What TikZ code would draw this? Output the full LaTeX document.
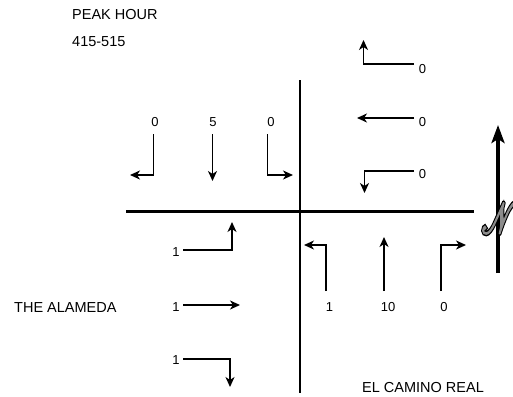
\documentclass[tikz,border=0pt]{standalone}
\usepackage{fontspec}
\setmainfont{Liberation Sans}
\usepackage{mathrsfs}
\usetikzlibrary{arrows.meta}
\newcommand{\glyphN}{\scalebox{2.75}[4.3]{$\mathscr{N}$}}
\newcommand{\outlinedN}{\rlap{\special{pdf:literal 2 Tr 1.1 w 0 0 0 RG}\glyphN}\special{pdf:literal 2 Tr 0.4 w 0.55 0.55 0.55 RG}\glyphN\special{pdf:literal 0 Tr 0 0 0 RG}}
\begin{document}
\begin{tikzpicture}[x=1pt,y=-1pt,
  road/.style={line width=2.3pt},
  mv/.style={line width=1.8pt,-{Stealth[length=10pt,width=9pt,inset=3pt]}},
  lbl/.style={inner sep=0pt,font=\fontsize{13}{15}\selectfont},
  hdr/.style={inner sep=0pt,anchor=base west,font=\fontsize{14.5}{17}\selectfont},
  nfill/.style={inner sep=0pt,text=black!45}]
\useasboundingbox (0,0) rectangle (513,396);
% headers
\node[hdr] (peak) at (72,20) {PEAK HOUR};
\node[hdr] (time) at (72,47) {415-515};
\node[hdr] (alameda) at (14,312) {THE ALAMEDA};
\node[hdr] (camino) at (362,392) {EL CAMINO REAL};
% roads
\coordinate (vt) at (300,80);
\coordinate (vb) at (300,393);
\coordinate (hl) at (126,211.5);
\coordinate (hr) at (474,211.5);
\draw[road] (vt) -- (vb);
\draw[road] (hl) -- (hr);
% southbound (top-left)
\node[lbl] (sbl) at (155,122.5) {0};
\node[lbl] (sbt) at (213,122.5) {5};
\node[lbl] (sbr) at (271,122.5) {0};
\draw[mv] (153.5,134) -- (153.5,175) -- (130,175);
\draw[mv] (212.5,134) -- (212.5,181);
\draw[mv] (267.5,134) -- (267.5,175) -- (293,175);
% westbound (top-right)
\node[lbl] (wbr) at (422.5,69) {0};
\node[lbl] (wbt) at (422.5,122) {0};
\node[lbl] (wbl) at (422.5,174.5) {0};
\draw[mv] (414,64) -- (363.5,64) -- (363.5,40);
\draw[mv] (414,118) -- (357,118);
\draw[mv] (414,171) -- (364.5,171) -- (364.5,193);
% eastbound (bottom-left)
\node[lbl] (ebl) at (176,252) {1};
\node[lbl] (ebt) at (176,307) {1};
\node[lbl] (ebr) at (176,360) {1};
\draw[mv] (183,250) -- (232,250) -- (232,222);
\draw[mv] (183,305) -- (240,305);
\draw[mv] (183,359) -- (230,359) -- (230,387);
% northbound (bottom-right)
\node[lbl] (nbl) at (329.5,307) {1};
\node[lbl] (nbt) at (388,307) {10};
\node[lbl] (nbr) at (444,307) {0};
\draw[mv] (326,291) -- (326,245) -- (304,245);
\draw[mv] (384,291) -- (384,237);
\draw[mv] (441,291) -- (441,245) -- (466,245);
% north arrow
\coordinate (nb) at (498,273);
\coordinate (nt) at (498,125);
\draw[line width=3.8pt,-{Stealth[length=18pt,width=13pt,inset=4pt]}] (nb) -- (nt);
\node[nfill] (north) at (499,218) {\outlinedN};
\end{tikzpicture}
\end{document}
